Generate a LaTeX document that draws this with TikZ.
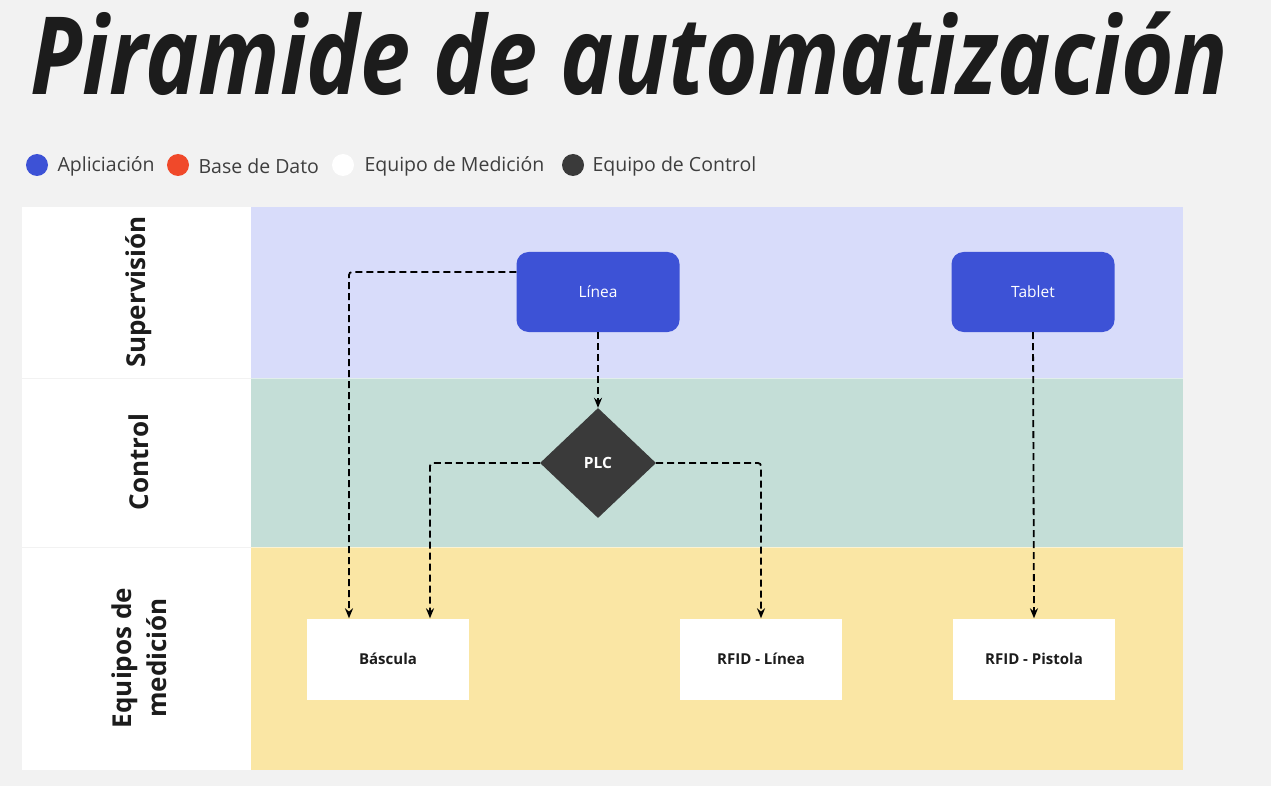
\documentclass[tikz,border=0pt]{standalone}
\usepackage{fontspec}
\setmainfont{Open Sans}
\usetikzlibrary{shapes.geometric, arrows.meta, positioning}

\definecolor{paper}{HTML}{F2F2F2}
\definecolor{appblue}{HTML}{3D52D6}
\definecolor{dbred}{HTML}{F0492A}
\definecolor{ctrldark}{HTML}{3A3A3A}
\definecolor{laneblue}{HTML}{D8DCFA}
\definecolor{lanegreen}{HTML}{C4DED7}
\definecolor{laneyellow}{HTML}{FAE6A4}
\definecolor{inkdark}{HTML}{1C1C1C}

\begin{document}
\begin{tikzpicture}[x=1pt, y=-1pt,
    app/.style={rectangle, rounded corners=12pt, fill=appblue, text=white,
        minimum width=163pt, minimum height=80pt, font=\fontsize{15.5}{18}\selectfont},
    plc/.style={diamond, fill=ctrldark, text=white, inner sep=0pt,
        minimum width=116pt, minimum height=110pt, font=\bfseries\fontsize{15.5}{18}\selectfont},
    meter/.style={rectangle, fill=white, text=inkdark,
        minimum width=162pt, minimum height=81pt, font=\bfseries\fontsize{15}{18}\selectfont},
    lanelabel/.style={rotate=90, align=center, text=inkdark, font=\bfseries\fontsize{26}{35}\selectfont},
    legdot/.style={circle, minimum size=22pt, inner sep=0pt},
    legtext/.style={anchor=west, text=inkdark!85, font=\fontsize{19.5}{22}\selectfont},
    link/.style={line width=1.8pt, dash pattern=on 7pt off 4pt, rounded corners=3pt,
        -{Stealth[length=10pt, width=8pt]}}]

    % Canvas
    \fill[paper] (0,0) rectangle (1271,786);
    \useasboundingbox (0,0) rectangle (1271,786);

    % Title
    \node[anchor=base west, inner sep=0pt, text=inkdark, yscale=1.2, transform shape,
        font=\bfseries\itshape\fontsize{90}{100}\selectfont] (title) at (30,95) {Piramide de automatización};

    % Legend
    \node[legdot, fill=appblue] (dotApp) at (37,165) {};
    \node[legtext] (txtApp) at (54,166) {Apliciación};
    \node[legdot, fill=dbred] (dotDb) at (178,165) {};
    \node[legtext] (txtDb) at (195,166) {Base de Dato};
    \node[legdot, fill=white] (dotMed) at (343,165) {};
    \node[legtext] (txtMed) at (361,166) {Equipo de Medición};
    \node[legdot, fill=ctrldark] (dotCtrl) at (573,165) {};
    \node[legtext] (txtCtrl) at (589,166) {Equipo de Control};

    % Lanes
    \fill[white] (22,207) rectangle (251,770);
    \fill[laneblue] (251,207) rectangle (1183,378);
    \fill[lanegreen] (251,378) rectangle (1183,547);
    \fill[laneyellow] (251,547) rectangle (1183,770);
    \draw[paper, line width=1pt] (22,378) -- (251,378);
    \draw[paper, line width=1pt] (22,547) -- (251,547);
    \draw[white!50!lanegreen, line width=1pt] (251,378) -- (1183,378);
    \draw[white!50!laneyellow, line width=1pt] (251,547) -- (1183,547);

    % Lane labels
    \node[lanelabel] (lblSup) at (139,292) {Supervisión};
    \node[lanelabel] (lblCtrl) at (139,462) {Control};
    \node[lanelabel] (lblMed) at (139,658) {Equipos de\\medición};

    % Nodes
    \node[app] (linea) at (598,292) {Línea};
    \node[app] (tablet) at (1033,292) {Tablet};
    \node[plc] (plc) at (598,463) {PLC};
    \node[meter] (bascula) at (388,659) {Báscula};
    \node[meter] (rfidLinea) at (761,659) {RFID - Línea};
    \node[meter] (rfidPistola) at (1034,659) {RFID - Pistola};

    % Connectors
    \draw[link] ([yshift=20pt]linea.west) -| ([xshift=-39pt]bascula.north);
    \draw[link] (linea.south) -- (plc.north);
    \draw[link] (plc.west) -| ([xshift=42pt]bascula.north);
    \draw[link] (plc.east) -| (rfidLinea.north);
    \draw[link] (tablet.south) -- (rfidPistola.north);
\end{tikzpicture}
\end{document}
